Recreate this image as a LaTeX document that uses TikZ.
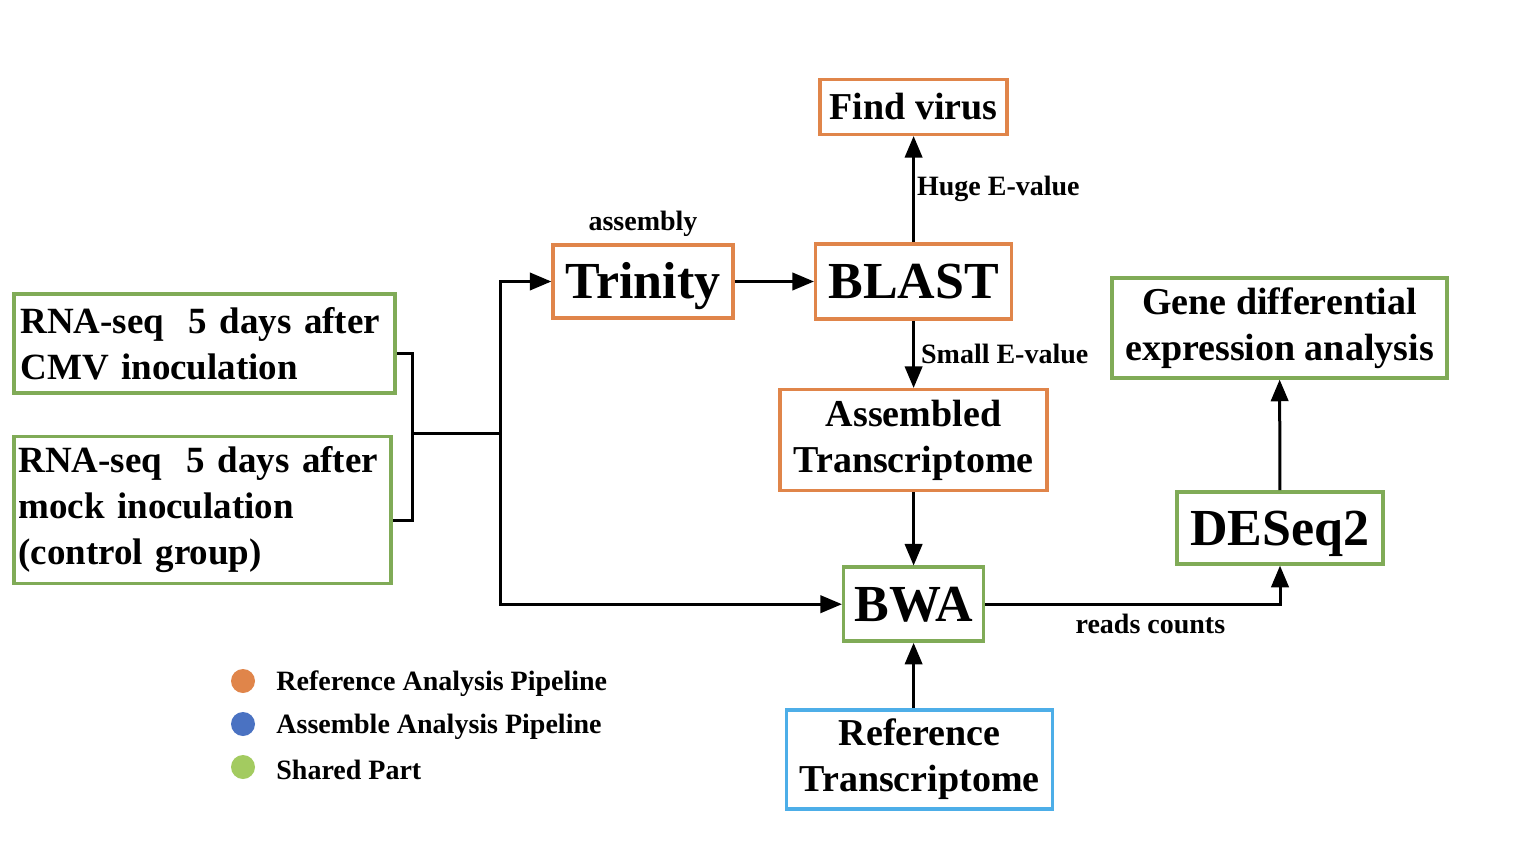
\documentclass[tikz,border=0pt]{standalone}
\usepackage{fontspec}
\setmainfont{Liberation Serif}
\usetikzlibrary{arrows,positioning,calc}
\definecolor{pipeorange}{HTML}{E0854A}
\definecolor{pipegreen}{HTML}{80AB57}
\definecolor{pipeblue}{HTML}{4DAEE8}
\definecolor{legendblue}{HTML}{4A72C2}
\definecolor{legendgreen}{HTML}{A3CB60}

\begin{document}
\begin{tikzpicture}[x=0.5pt,y=-0.5pt,>=triangle 45,
	main node/.style={draw,line width=1.8pt,fill=white,inner sep=2pt,align=center,
		font=\bfseries\fontsize{19}{23}\selectfont},
	orange node/.style={main node,draw=pipeorange},
	green node/.style={main node,draw=pipegreen},
	blue node/.style={main node,draw=pipeblue},
	big text/.style={font=\bfseries\fontsize{26}{30}\selectfont,text height=17.5pt,text depth=0pt},
	sample node/.style={green node,align=left,text width=184pt,inner xsep=2pt,
		font=\bfseries\fontsize{18.5}{23}\selectfont},
	small text/.style={font=\bfseries\fontsize{14}{16}\selectfont,inner sep=0pt},
	link/.style={line width=1.5pt},
	flow/.style={link,->}]

	\fill[white] (0,0) rectangle (1520,850);

	% input samples
	\node[sample node,minimum width=190.5pt,minimum height=49.5pt] (cmv) at (204.5,343.5)
		{RNA-seq\ \ 5 days after\\CMV inoculation};
	\node[sample node,minimum width=188.5pt,minimum height=73.5pt] (mock) at (202.5,510)
		{RNA-seq\ \ 5 days after\\mock inoculation\\(control group)};

	% assembly branch
	\node[orange node,big text,minimum width=90pt,minimum height=36.5pt] (trinity) at (643,281.5) {Trinity};
	\node[orange node,big text,minimum width=98pt,minimum height=37.5pt] (blast) [right = 39.5pt of trinity] {BLAST};
	\node[orange node,minimum width=93.5pt,minimum height=27.5pt] (virus) [above = 53pt of blast] {Find virus};
	\node[orange node,minimum width=133.5pt,minimum height=50.5pt] (asm) [below = 33.5pt of blast] {Assembled\\Transcriptome};
	\node[green node,big text,minimum width=70pt,minimum height=37pt] (bwa) [below = 36.5pt of asm] {BWA};
	\node[blue node,minimum width=133pt,minimum height=49.5pt] (reftx) [below = 32.5pt of bwa, xshift=3pt] {Reference\\Transcriptome};

	% expression branch
	\node[green node,big text,minimum width=103pt,minimum height=36pt] (deseq) at (1280,528) {DESeq2};
	\node[green node,minimum width=167.5pt,minimum height=50pt] (gene) at (1279.5,328) {Gene differential\\expression analysis};

	\node[small text] (assembly) [above = 3pt of trinity] {assembly};

	\coordinate (brk) at (412,433);
	\coordinate (split) at (500,433);

	\draw[link] ([yshift=-5pt]cmv.east) -| (brk) |- ([yshift=-5pt]mock.east);
	\draw[link] (brk) -- (split);
	\draw[flow] (split) |- (trinity.west);
	\draw[flow] (split) |- (bwa.west);
	\draw[flow] (trinity) -- (blast);
	\draw[flow] (blast) -- node[small text,right,xshift=1pt] (huge) {Huge E-value} (virus);
	\draw[flow] (blast) -- node[small text,right,xshift=3pt] (tiny) {Small E-value} (asm);
	\draw[flow] (asm) -- (bwa);
	\draw[flow] (bwa.south |- reftx.north) -- (bwa.south);
	\draw[flow] (bwa.east) -| node[small text,below=4pt,pos=0.28] (counts) {reads counts} (deseq.south);
	\draw[flow] (deseq) -- (gene);

	% legend
	\foreach \col/\txt [count=\i] in {pipeorange/Reference Analysis Pipeline,
		legendblue/Assemble Analysis Pipeline,legendgreen/Shared Part}{
		\fill[\col] (243,638+43*\i) circle (6pt);
		\node[small text,anchor=west,yshift=-1.5pt] (leg\i) at (276,638+43*\i) {\txt};
	}
\end{tikzpicture}
\end{document}
